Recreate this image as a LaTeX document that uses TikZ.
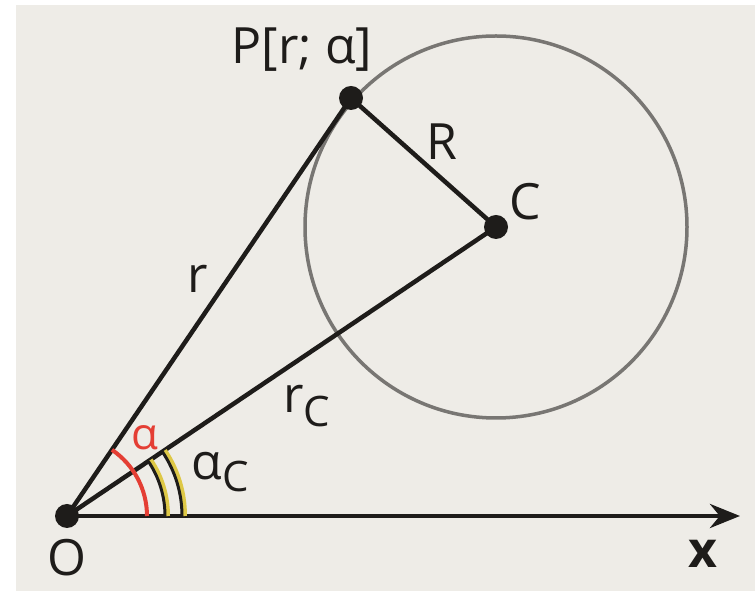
\documentclass[tikz,border=0pt]{standalone}
\usepackage{fontspec}
\setmainfont{Open Sans}
\usetikzlibrary{arrows.meta}
\definecolor{bg}{RGB}{238,236,231}
\definecolor{ink}{RGB}{30,28,26}
\definecolor{redarc}{RGB}{228,62,52}
\definecolor{yel}{RGB}{222,200,70}
\definecolor{circ}{RGB}{120,118,115}
\begin{document}
\begin{tikzpicture}[x=1pt,y=1pt,
  dot/.style={circle,fill=ink,inner sep=0pt,minimum size=24pt},
  lbl/.style={text=ink,inner sep=0pt,font=\fontsize{50}{56}\selectfont},
  seg/.style={draw=ink,line width=4.5pt}]
\fill[white] (0,0) rectangle (755,591);
\fill[bg] (16,0) rectangle (755,586);
\useasboundingbox (0,0) rectangle (755,591);
\coordinate (Oc) at (67,75);
\coordinate (Cc) at (496,364);
\draw[circ,line width=3.5pt] (Cc) circle[radius=191];
\node[dot] (O) at (67,75) {};
\node[dot] (P) at (351,493) {};
\node[dot] (C) at (496,364) {};
\coordinate (xend) at (740,75);
\draw[seg,-{Stealth[length=30pt,width=24pt]}] (O.center) -- (xend);
\draw[seg] (O.center) -- (P.center);
\draw[seg] (O.center) -- (C.center);
\draw[seg] (P.center) -- (C.center);
% angle arcs
\draw[yel,line width=4pt] (Oc) ++(0:101) arc[start angle=0,end angle=33.9,radius=101];
\draw[yel,line width=4pt] (Oc) ++(0:118) arc[start angle=0,end angle=33.9,radius=118];
\draw[ink,line width=3pt] (Oc) ++(0:98) arc[start angle=0,end angle=33.9,radius=98];
\draw[ink,line width=3pt] (Oc) ++(0:115) arc[start angle=0,end angle=33.9,radius=115];
\draw[redarc,line width=4pt] (Oc) ++(0:80) arc[start angle=0,end angle=55.8,radius=80];
% labels
\node[lbl] (lP) at (302,541) {P[r; α]};
\node[lbl] (lR) at (442,449) {R};
\node[lbl] (lC) at (525,389) {C};
\node[lbl] (lr) at (198,312) {r};
\node[lbl] (lrc) at (307,185) {r\raisebox{-14pt}{\fontsize{42}{46}\selectfont C}};
\node[lbl,text=redarc,font=\fontsize{44}{48}\selectfont] (la) at (145,153) {α};
\node[lbl] (lac) at (220,119) {α\raisebox{-12pt}{\fontsize{42}{46}\selectfont C}};
\node[lbl] (lO) at (67,33) {O};
\node[lbl,font=\fontsize{50}{56}\bfseries\selectfont] (lx) at (703,37) {x};
\end{tikzpicture}
\end{document}
